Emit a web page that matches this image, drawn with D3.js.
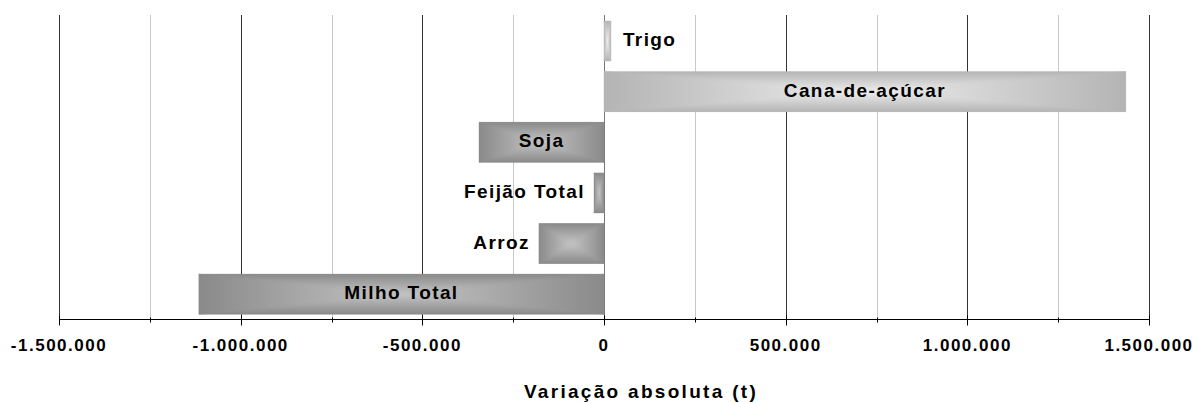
<!DOCTYPE html>
<html>
<head>
<meta charset="utf-8">
<script src="https://cdnjs.cloudflare.com/ajax/libs/d3/7.8.5/d3.min.js"></script>
<style>
  body { margin: 0; background: #fff; }
  text { font-family: "Liberation Sans", Arial, sans-serif; font-weight: bold; fill: #000; }
</style>
</head>
<body>
<div class="main"></div>
<script>
// chart data
const categories = ["Trigo", "Cana-de-açúcar", "Soja", "Feijão Total", "Arroz", "Milho Total"];
const values = [19000, 1436000, -344000, -27500, -179000, -1115000];
const majorTicks = [-1500000, -1000000, -500000, 0, 500000, 1000000, 1500000];
const minorTicks = [-1250000, -750000, -250000, 250000, 750000, 1250000];
const axisTitle = "Variação absoluta (t)";

let width = 1194, height = 403;
let plotTop = 15.7, plotBottom = 319.5;

let svg = d3.select("div.main").append("svg")
  .attr("width", width)
  .attr("height", height);

let x = d3.scaleLinear()
  .domain([-1500000, 1500000])
  .range([59, 1149]);

let y = d3.scaleBand()
  .domain(categories)
  .range([plotTop, plotBottom])
  .paddingInner(0.21)
  .paddingOuter(0.105);

let ptBR = d3.formatLocale({decimal: ",", thousands: ".", grouping: [3], currency: ["R$", ""], minus: "-"});
let fmt = ptBR.format(",.0f");

// gradients: one per side of the bar (frame from center)
let defs = svg.append("defs");
let palettes = {
  pos: ["#b4b4b4", "#ededed"],
  neg: ["#8a8a8a", "#c4c4c4"]
};
let sides = {
  top: [0, 0, 0, 1],
  bottom: [0, 1, 0, 0],
  left: [0, 0, 1, 0],
  right: [1, 0, 0, 0]
};
Object.keys(palettes).forEach(function(p) {
  Object.keys(sides).forEach(function(s) {
    let c = sides[s];
    let g = defs.append("linearGradient")
      .attr("id", "g-" + p + "-" + s)
      .attr("x1", c[0]).attr("y1", c[1]).attr("x2", c[2]).attr("y2", c[3]);
    g.append("stop").attr("offset", 0).attr("stop-color", palettes[p][0]);
    g.append("stop").attr("offset", 1).attr("stop-color", palettes[p][1]);
  });
});

// gridlines
svg.append("g").selectAll("line.minor")
  .data(minorTicks)
  .enter().append("line")
  .attr("x1", d => Math.round(x(d)) + 0.5)
  .attr("x2", d => Math.round(x(d)) + 0.5)
  .attr("y1", 15)
  .attr("y2", plotBottom)
  .attr("stroke", "#c8c8c8");

svg.append("g").selectAll("line.major")
  .data(majorTicks)
  .enter().append("line")
  .attr("x1", d => Math.round(x(d)) + 0.5)
  .attr("x2", d => Math.round(x(d)) + 0.5)
  .attr("y1", 15)
  .attr("y2", plotBottom)
  .attr("stroke", d => d === 0 ? "#777" : "#333");

// bars
let rows = categories.map((c, i) => ({name: c, value: values[i]}));

let bars = svg.append("g").selectAll("g.bar")
  .data(rows)
  .enter().append("g")
  .attr("class", "bar");

bars.each(function(d) {
  let g = d3.select(this);
  let x0 = x(Math.min(0, d.value)), x1 = x(Math.max(0, d.value));
  let y0 = y(d.name), y1 = y0 + y.bandwidth();
  let cx = (x0 + x1) / 2, cy = (y0 + y1) / 2;
  let p = d.value < 0 ? "neg" : "pos";
  g.append("rect")
    .attr("x", x0).attr("y", y0)
    .attr("width", x1 - x0).attr("height", y1 - y0)
    .attr("fill", palettes[p][0]);
  let tris = {
    top: [[x0, y0], [x1, y0], [cx, cy]],
    bottom: [[x0, y1], [x1, y1], [cx, cy]],
    left: [[x0, y0], [x0, y1], [cx, cy]],
    right: [[x1, y0], [x1, y1], [cx, cy]]
  };
  Object.keys(tris).forEach(function(s) {
    g.append("polygon")
      .attr("points", tris[s].map(q => q.join(",")).join(" "))
      .attr("fill", "url(#g-" + p + "-" + s + ")")
      .attr("stroke", "url(#g-" + p + "-" + s + ")")
      .attr("stroke-width", 0.4);
  });
});

// category labels
bars.append("text")
  .style("font-size", "19px")
  .style("letter-spacing", "1.4px")
  .attr("y", d => y(d.name) + y.bandwidth() / 2 + 5)
  .text(d => d.name)
  .each(function(d) {
    let t = d3.select(this);
    let w = this.getComputedTextLength();
    let x0 = x(Math.min(0, d.value)), x1 = x(Math.max(0, d.value));
    if (w + 16 < x1 - x0) {
      t.attr("x", (x0 + x1) / 2).attr("text-anchor", "middle");
    } else if (d.value >= 0) {
      t.attr("x", x1 + 12).attr("text-anchor", "start");
    } else {
      t.attr("x", x0 - 9).attr("text-anchor", "end");
    }
  });

// axis
let axis = svg.append("g")
  .attr("transform", "translate(0," + plotBottom + ")");

axis.append("line")
  .attr("x1", x.range()[0]).attr("x2", x.range()[1])
  .attr("stroke", "#000");

axis.selectAll("line.mt")
  .data(majorTicks)
  .enter().append("line")
  .attr("x1", d => Math.round(x(d)) + 0.5)
  .attr("x2", d => Math.round(x(d)) + 0.5)
  .attr("y1", -4).attr("y2", 6)
  .attr("stroke", "#000");

axis.selectAll("line.nt")
  .data(minorTicks)
  .enter().append("line")
  .attr("x1", d => Math.round(x(d)) + 0.5)
  .attr("x2", d => Math.round(x(d)) + 0.5)
  .attr("y1", -2).attr("y2", 3)
  .attr("stroke", "#000");

axis.selectAll("text.tl")
  .data(majorTicks)
  .enter().append("text")
  .attr("x", d => x(d))
  .attr("y", 31.5)
  .attr("text-anchor", "middle")
  .style("font-size", "17px")
  .style("letter-spacing", "1.5px")
  .text(d => fmt(d));

svg.append("text")
  .attr("x", 641)
  .attr("y", 398)
  .attr("text-anchor", "middle")
  .style("font-size", "19px")
  .style("letter-spacing", "2.3px")
  .text(axisTitle);
</script>
</body>
</html>
